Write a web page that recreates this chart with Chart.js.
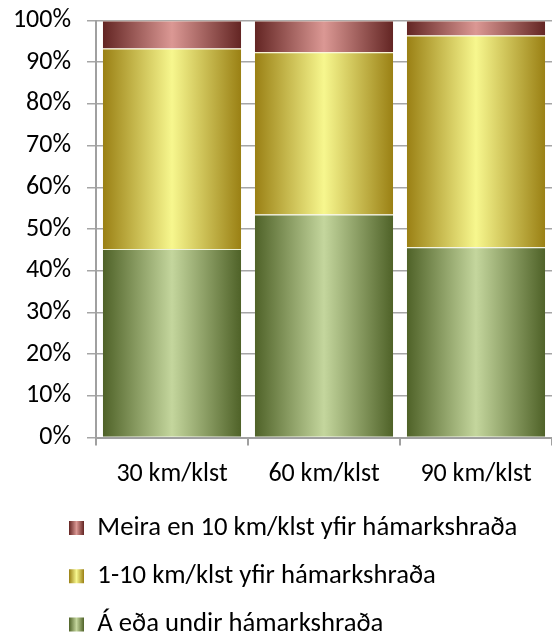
<!DOCTYPE html>
<html>
<head>
<meta charset="utf-8">
<script src="https://cdn.jsdelivr.net/npm/chart.js@4/dist/chart.umd.min.js"></script>
<style>
  html, body { margin: 0; padding: 0; background: #ffffff; }
  #wrap { width: 552px; height: 637px; }
</style>
</head>
<body>
<div id="wrap"><canvas id="c" width="552" height="637"></canvas></div>
<script>
// ---- data ----
const categories = ['30 km/klst', '60 km/klst', '90 km/klst'];
const underLimit = [45.2, 53.5, 45.6];   // Á eða undir hámarkshraða
const over1to10  = [48.1, 38.9, 50.8];   // 1-10 km/klst yfir hámarkshraða
const over10     = [6.7, 7.6, 3.6];      // Meira en 10 km/klst yfir hámarkshraða
const seriesNames = [
  'Á eða undir hámarkshraða',
  '1-10 km/klst yfir hámarkshraða',
  'Meira en 10 km/klst yfir hámarkshraða'
];
const yTicks = [0, 10, 20, 30, 40, 50, 60, 70, 80, 90, 100];

// ---- style ----
const FONT = 'Carlito, Lato, "Open Sans", sans-serif';
const FS = 26;
const LFS = 26.7;
const CAT_PCT = 0.91;
const palette = [
  { dark: '#4f6228', light: '#c4d69d', line: 'rgba(235,240,215,0.9)' },
  { dark: '#9a8014', light: '#f7f78e', line: 'rgba(250,245,190,0.9)' },
  { dark: '#632523', light: '#db9894', line: 'rgba(240,215,200,0.9)' }
];

function makeGrad(c, x0, x1, p) {
  const g = c.createLinearGradient(x0, 0, x1, 0);
  g.addColorStop(0, p.dark);
  g.addColorStop(0.5, p.light);
  g.addColorStop(1, p.dark);
  return g;
}
function barFill(i) {
  return function (ctx) {
    const chart = ctx.chart;
    if (!chart.chartArea || ctx.type !== 'data') return palette[i].light;
    const xs = chart.scales.x;
    const cx = xs.getPixelForValue(ctx.dataIndex);
    const w = (xs.width / categories.length) * CAT_PCT;
    return makeGrad(chart.ctx, cx - w / 2, cx + w / 2, palette[i]);
  };
}

const legendPlace = {
  id: 'legendPlace',
  beforeDraw(chart) {
    const lg = chart.legend;
    const pad = lg.options.labels.padding;
    const bw = lg.options.labels.boxWidth;
    lg.left = 69 - pad;
    lg.top = 528 - pad - LFS / 2;
    const bx = lg.left + pad;
    (lg.legendItems || []).forEach(it => {
      const p = palette[it.datasetIndex];
      it.fillStyle = makeGrad(chart.ctx, bx, bx + bw, p);
      it.strokeStyle = 'rgba(0,0,0,0)';
      it.lineWidth = 0;
    });
  }
};

const values = [underLimit, over1to10, over10];
const datasets = values.map((v, i) => ({
  label: seriesNames[i],
  data: v,
  backgroundColor: barFill(i),
  borderColor: palette[i].line,
  borderWidth: { top: 1, left: 0, right: 0, bottom: 0 },
  borderSkipped: false,
  categoryPercentage: CAT_PCT,
  barPercentage: 1
}));

new Chart(document.getElementById('c'), {
  type: 'bar',
  data: { labels: categories, datasets },
  plugins: [legendPlace],
  options: {
    responsive: false,
    animation: false,
    devicePixelRatio: 1,
    layout: { padding: { left: 12, top: 20.5, right: 0, bottom: 0 } },
    plugins: {
      tooltip: { enabled: false },
      legend: {
        position: 'bottom',
        align: 'start',
        reverse: true,
        labels: {
          boxWidth: 15,
          boxHeight: 14,
          padding: 21.6,
          color: '#000',
          font: { family: FONT, size: LFS }
        }
      }
    },
    scales: {
      x: {
        stacked: true,
        grid: { display: true, drawOnChartArea: false, drawTicks: true, tickLength: 8, offset: true, color: '#a0a0a0', lineWidth: 2 },
        border: { display: true, color: '#a0a0a0', width: 2 },
        ticks: { color: '#000', padding: 13.6, font: { family: FONT, size: FS } },
        afterFit(axis) { axis.height = 44.6; }
      },
      y: {
        stacked: true,
        min: 0,
        max: 100,
        afterBuildTicks(axis) { axis.ticks = yTicks.map(v => ({ value: v })); },
        afterFit(axis) { axis.width = 84; axis.paddingTop = 0; axis.paddingBottom = 0; },
        grid: { color: '#a6a6a6', lineWidth: 1.5, tickLength: 9 },
        border: { display: true, color: '#a0a0a0', width: 2 },
        ticks: { color: '#000', padding: 16, font: { family: FONT, size: FS }, callback: v => v + '%' }
      }
    }
  }
});
</script>
</body>
</html>
